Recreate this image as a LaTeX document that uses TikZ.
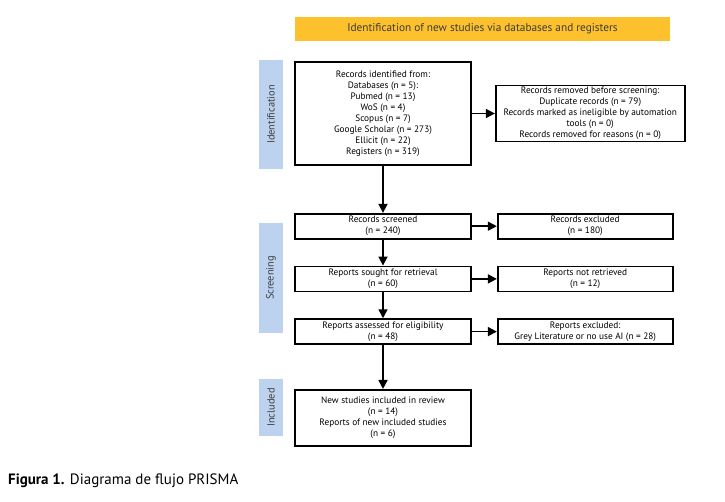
\documentclass[tikz,border=0pt]{standalone}
\usepackage{fontspec}
\setmainfont{PT Sans}
\usepackage{xcolor}
\usetikzlibrary{arrows.meta,positioning}
\definecolor{prismayellow}{RGB}{252,193,45}
\definecolor{phaseblue}{RGB}{189,210,238}
\definecolor{phasetext}{RGB}{60,60,60}

\begin{document}
\begin{tikzpicture}[
    x=1pt, y=-1pt,
    node distance=23pt and 23pt,
    box/.style={draw, line width=1.7pt, align=center, minimum width=176pt, minimum height=25pt, inner sep=1pt, font=\fontsize{9.3}{11}\selectfont},
    sidebox/.style={box, minimum width=175pt},
    phase/.style={fill=phaseblue, rotate=90, minimum height=24pt, inner sep=0pt, text=phasetext, font=\fontsize{10.4}{12}\selectfont},
    arrow/.style={-{Triangle[length=9pt,width=9pt]}, line width=1.7pt}
  ]
    \useasboundingbox (0,0) rectangle (725,501);

    \node[fill=prismayellow, minimum width=375pt, minimum height=24pt, font=\fontsize{11.3}{13}\selectfont, text=phasetext] (title) at (482.5,29) {Identification of new studies via databases and registers};

    \node[box, minimum height=103pt] (ident) at (383,113.5) {Records identified from:\\Databases (n = 5):\\Pubmed (n = 13)\\WoS (n = 4)\\Scopus (n = 7)\\Google Scholar (n = 273)\\Ellicit (n = 22)\\Registers (n = 319)};
    \node[box, minimum width=189pt, minimum height=56pt, right=23pt of ident] (removed) {Records removed before screening:\\Duplicate records (n = 79)\\Records marked as ineligible by automation\\tools (n = 0)\\Records removed for reasons (n = 0)};

    \node[box, below=47pt of ident] (screened) {Records screened\\(n = 240)};
    \node[sidebox, right=25pt of screened] (excluded) {Records excluded\\(n = 180)};
    \node[box, below=26pt of screened] (sought) {Reports sought for retrieval\\(n = 60)};
    \node[sidebox, right=25pt of sought] (notret) {Reports not retrieved\\(n = 12)};
    \node[box, below=26pt of sought] (assessed) {Reports assessed for eligibility\\(n = 48)};
    \node[sidebox, right=25pt of assessed] (reasons) {Reports excluded:\\Grey Literature or no use AI (n = 28)};
    \node[box, minimum height=56pt, below=44pt of assessed] (included) {New studies included in review\\(n = 14)\\Reports of new included studies\\(n = 6)};

    \node[phase, minimum width=109pt] (phaseid) at (271,114.5) {Identification};
    \node[phase, minimum width=110pt] (phasescr) at (271,278) {Screening};
    \node[phase, minimum width=57pt] (phaseinc) at (271,407.5) {Included};

    \node[anchor=west, inner sep=0pt, font=\fontsize{15}{17}\selectfont] (caption) at (8,481) {\textbf{Figura 1.} Diagrama de flujo PRISMA};

    \draw[arrow] (ident) -- (removed);
    \draw[arrow] (ident) -- (screened);
    \draw[arrow] (screened) -- (excluded);
    \draw[arrow] (screened) -- (sought);
    \draw[arrow] (sought) -- (notret);
    \draw[arrow] (sought) -- (assessed);
    \draw[arrow] (assessed) -- (reasons);
    \draw[arrow] (assessed) -- (included);
  \end{tikzpicture}
\end{document}
